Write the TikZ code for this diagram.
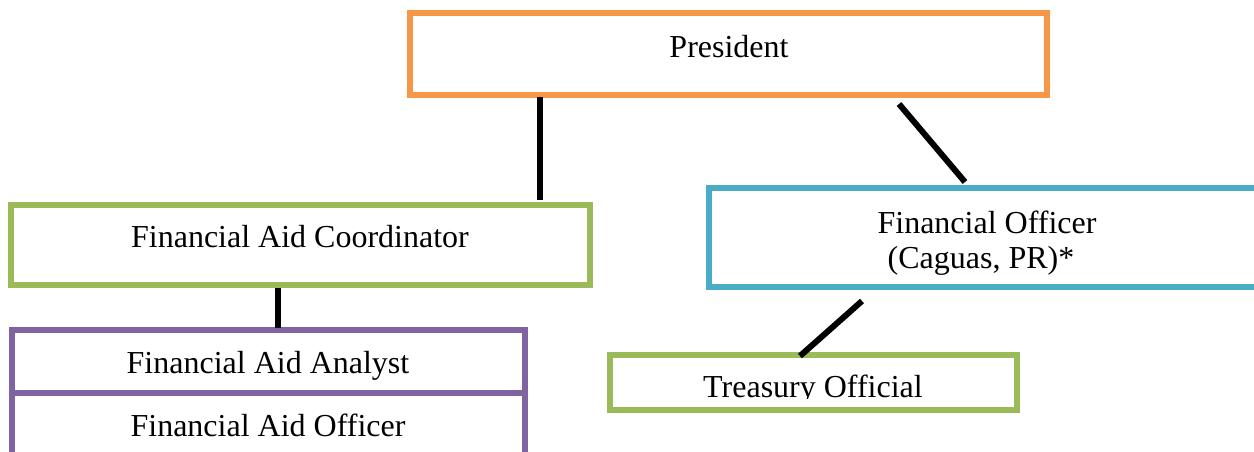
\documentclass[tikz,border=0pt]{standalone}
\usepackage{fontspec}
\setmainfont{Liberation Serif}
\definecolor{cOrange}{HTML}{F79646}
\definecolor{cGreen}{HTML}{9BBB59}
\definecolor{cBlue}{HTML}{4BACC6}
\definecolor{cPurple}{HTML}{8064A2}
\begin{document}
\begin{tikzpicture}[x=1pt,y=-1pt,
  box/.style={draw=#1,line width=6pt,rectangle,inner sep=0pt,fill=white},
  lbl/.style={anchor=base,inner sep=0pt,font=\fontsize{32}{37}\selectfont},
  link/.style={line width=6pt,black}]
\useasboundingbox (0,0) rectangle (1254,451);
\clip (0,0) rectangle (1254,451);
% boxes
\node[box=cOrange,minimum width=637pt,minimum height=82pt] (pres) at (728.5,54) {};
\node[box=cGreen,minimum width=579pt,minimum height=80pt] (fac) at (300.5,245) {};
\node[box=cPurple,minimum width=513pt,minimum height=63pt] (ana) at (268.5,361.5) {};
\node[box=cPurple,minimum width=513pt,minimum height=70pt] (off) at (268.5,428) {};
\node[box=cBlue,minimum width=557pt,minimum height=99pt] (fo) at (987.5,237.5) {};
\node[box=cGreen,minimum width=407pt,minimum height=55pt] (tre) at (813.5,382.5) {};
% texts
\node[lbl] (tpres) at (729,57) {President};
\node[lbl] (tfac) at (300,247) {Financial Aid Coordinator};
\node[lbl] (tana) at (268,373) {Financial Aid Analyst};
\node[lbl] (toff) at (268,436) {Financial Aid Officer};
\node[lbl] (tfo1) at (987,233) {Financial Officer};
\node[lbl] (tfo2) at (981,268) {(Caguas, PR)*};
\begin{scope}
\clip (600,360) rectangle (1020,398);
\node[lbl] (ttre) at (813,397) {Treasury Official};
\end{scope}
% connector end points
\coordinate (p1) at (540,97);
\coordinate (p2) at (540,200);
\coordinate (f1) at (278,288);
\coordinate (f2) at (278,328);
\coordinate (q1) at (899,104);
\coordinate (q2) at (965,182);
\coordinate (o1) at (862,301);
\coordinate (o2) at (800,356);
\draw[link] (p1) -- (p2);
\draw[link] (f1) -- (f2);
\draw[link] (q1) -- (q2);
\draw[link] (o1) -- (o2);
\end{tikzpicture}
\end{document}
